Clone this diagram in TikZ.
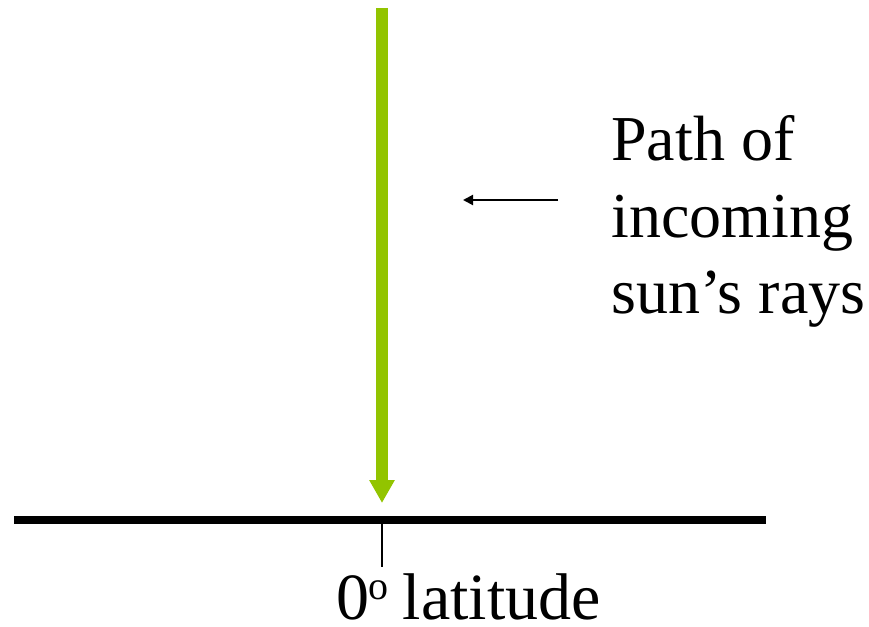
\documentclass[tikz,border=0pt]{standalone}
\usepackage{fontspec}
\setmainfont{Liberation Serif}
\usetikzlibrary{arrows.meta}
\definecolor{raygreen}{RGB}{146,196,0}
\begin{document}
\begin{tikzpicture}[x=1pt,y=-1pt,
  bigtext/.style={font=\fontsize{64}{77}\selectfont,inner sep=0pt,anchor=base west},
  labeltext/.style={font=\fontsize{66}{79}\selectfont,inner sep=0pt,anchor=base west},
  ray/.style={draw=raygreen,line width=12pt,-{Triangle[width=24pt,length=23pt]}},
  pointer/.style={draw=black,line width=2pt,-{Triangle[width=10pt,length=10pt]}},
  ground/.style={draw=black,line width=8pt},
  tick/.style={draw=black,line width=2pt}]
\useasboundingbox (0,0) rectangle (869,626);
\coordinate (raytop) at (382,8);
\coordinate (raytip) at (382,503);
\coordinate (gl) at (14,520);
\coordinate (gr) at (766,520);
\coordinate (tickt) at (382,524);
\coordinate (tickb) at (382,567);
\coordinate (ps) at (558,200);
\coordinate (pe) at (463,200);
\draw[ray] (raytop) -- (raytip);
\draw[ground] (gl) -- (gr);
\draw[tick] (tickt) -- (tickb);
\draw[pointer] (ps) -- (pe);
\node[bigtext] (l1) at (611,160) {Path of};
\node[bigtext] (l2) at (611,237) {incoming};
\node[bigtext] (l3) at (611,313) {sun’s rays};
\node[labeltext] (lat) at (336,619) {0\kern-1pt\raisebox{20pt}{\fontsize{40}{40}\selectfont o}\kern-2pt{} latitude};
\end{tikzpicture}
\end{document}
